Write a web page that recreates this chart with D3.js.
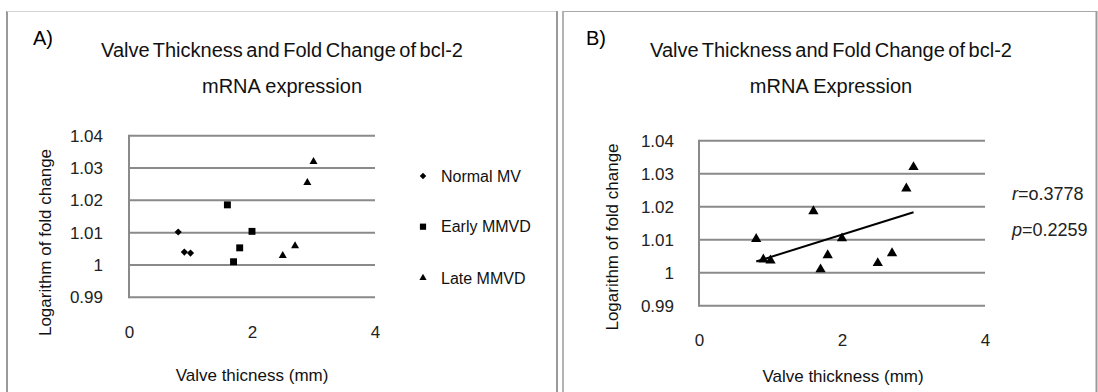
<!DOCTYPE html>
<html>
<head>
<meta charset="utf-8">
<script src="https://cdn.jsdelivr.net/npm/d3@7"></script>
<style>
  html, body { margin: 0; padding: 0; background: #fff; }
  svg { display: block; font-family: "Liberation Sans", Arial, sans-serif; }
</style>
</head>
<body>
<svg id="chart" width="1098" height="392"></svg>
<script>
// Valve thickness (mm) and log fold change of bcl-2 mRNA, per group
const normalX = [0.8, 0.9, 1.0];
const normalY = [1.0102, 1.0040, 1.0037];
const earlyX  = [1.6, 2.0, 1.8, 1.7];
const earlyY  = [1.0186, 1.0104, 1.0053, 1.0010];
const lateX   = [3.0, 2.9, 2.7, 2.5];
const lateY   = [1.0320, 1.0255, 1.0059, 1.0029];

const groupNames = ["Normal MV", "Early MMVD", "Late MMVD"];
const yTicks = [0.99, 1.00, 1.01, 1.02, 1.03, 1.04];
const yTickLabels = ["0.99", "1", "1.01", "1.02", "1.03", "1.04"];
const xTicks = [0, 2, 4];
const xTickLabels = ["0", "2", "4"];
const statLabels = ["=o.3778", "=0.2259"];
const statNames = ["r", "p"];

const groups = [
  { name: groupNames[0], xs: normalX, ys: normalY, shape: "diamond" },
  { name: groupNames[1], xs: earlyX,  ys: earlyY,  shape: "square" },
  { name: groupNames[2], xs: lateX,   ys: lateY,   shape: "triangle" }
];
const allPoints = groups.flatMap(g => g.xs.map((x, i) => ({ x, y: g.ys[i] })));

const svg = d3.select("#chart");
const GRID = "#8a8a8a";

// panel frames
svg.append("line").attr("x1", 7).attr("x2", 7).attr("y1", 11).attr("y2", 392)
  .attr("stroke", "#9a9a9a").attr("stroke-width", 2);
svg.append("line").attr("x1", 7).attr("x2", 557).attr("y1", 11.5).attr("y2", 11.5)
  .attr("stroke", "#d4d4d4").attr("stroke-width", 1);
svg.append("line").attr("x1", 557).attr("x2", 557).attr("y1", 11).attr("y2", 392)
  .attr("stroke", "#9a9a9a").attr("stroke-width", 2);
svg.append("line").attr("x1", 563).attr("x2", 563).attr("y1", 11).attr("y2", 392)
  .attr("stroke", "#9a9a9a").attr("stroke-width", 1.5);
svg.append("line").attr("x1", 563).attr("x2", 1097).attr("y1", 11.5).attr("y2", 11.5)
  .attr("stroke", "#a8a8a8").attr("stroke-width", 1);
svg.append("line").attr("x1", 1096.5).attr("x2", 1096.5).attr("y1", 11).attr("y2", 392)
  .attr("stroke", "#9a9a9a").attr("stroke-width", 2);

// square rhombus for the diamond marker, d3 symbols for the rest
const rhombus = {
  draw(ctx, size) {
    const r = Math.sqrt(size / 2);
    ctx.moveTo(0, -r); ctx.lineTo(r, 0); ctx.lineTo(0, r); ctx.lineTo(-r, 0); ctx.closePath();
  }
};
function symbolPath(shape, size) {
  const type = shape === "diamond" ? rhombus
             : shape === "square" ? d3.symbolSquare : d3.symbolTriangle;
  return d3.symbol().type(type).size(size)();
}
const markSizes = { diamond: 26, square: 48, triangle: 28 };

function drawPanel(cfg) {
  const g = svg.append("g");
  const x = d3.scaleLinear().domain([0, 4]).range([cfg.left, cfg.right]);
  const y = d3.scaleLinear().domain([0.99, 1.04]).range([cfg.bottom, cfg.top]);

  g.append("text").attr("x", cfg.tagX).attr("y", 45)
    .attr("font-size", 20).attr("fill", "#000").text(cfg.tag);

  g.append("text").attr("x", cfg.titleX).attr("y", 57).attr("text-anchor", "middle")
    .attr("font-size", 20).attr("word-spacing", -2).attr("fill", "#111").text(cfg.title1);
  g.append("text").attr("x", cfg.titleX).attr("y", 93).attr("text-anchor", "middle")
    .attr("font-size", 20).attr("fill", "#111").text(cfg.title2);

  // horizontal gridlines
  g.selectAll("line.grid").data(yTicks).join("line").attr("class", "grid")
    .attr("x1", cfg.left).attr("x2", cfg.right)
    .attr("y1", d => y(d)).attr("y2", d => y(d))
    .attr("stroke", GRID).attr("stroke-width", 2);
  // value axis line
  g.append("line").attr("x1", cfg.left).attr("x2", cfg.left)
    .attr("y1", y(1.04) - 1).attr("y2", y(0.99) + 1)
    .attr("stroke", GRID).attr("stroke-width", 2);

  // y tick labels
  const yAxis = d3.axisLeft(y).tickValues(yTicks).tickSize(0).tickPadding(cfg.yPad)
    .tickFormat((d, i) => yTickLabels[i]);
  const ya = g.append("g").attr("transform", `translate(${cfg.left},0)`).call(yAxis);
  ya.select(".domain").remove();
  ya.selectAll("text").attr("font-size", 17).attr("fill", "#222")
    .attr("font-family", "Liberation Sans, Arial, sans-serif");

  // x tick labels
  const xAxis = d3.axisBottom(x).tickValues(xTicks).tickSize(0).tickPadding(0)
    .tickFormat((d, i) => xTickLabels[i]);
  const xa = g.append("g").attr("transform", `translate(0,${cfg.xTickY})`).call(xAxis);
  xa.select(".domain").remove();
  xa.selectAll("text").attr("font-size", 17).attr("fill", "#222").attr("dy", 0)
    .attr("font-family", "Liberation Sans, Arial, sans-serif");

  // axis titles
  g.append("text").attr("transform", `translate(${cfg.yTitleX},${cfg.yTitleY}) rotate(-90)`)
    .attr("text-anchor", "middle").attr("dy", "0.35em")
    .attr("font-size", 17).attr("fill", "#111").text("Logarithm of fold change");
  g.append("text").attr("x", cfg.xTitleX).attr("y", cfg.xTitleY).attr("text-anchor", "middle")
    .attr("font-size", 17).attr("fill", "#111").text(cfg.xTitle);

  return { g, x, y };
}

// Panel A: three groups with legend
const A = drawPanel({
  tag: "A)", tagX: 33,
  title1: "Valve Thickness and Fold Change of bcl-2", title2: "mRNA expression", titleX: 282,
  left: 129, right: 375, top: 135.7, bottom: 297.3, yPad: 26,
  xTickY: 338, yTitleX: 45.5, yTitleY: 242.5,
  xTitle: "Valve thicness  (mm)", xTitleX: 252, xTitleY: 381
});
groups.forEach(gr => {
  A.g.selectAll(null).data(gr.xs.map((v, i) => [v, gr.ys[i]])).join("path")
    .attr("transform", d => `translate(${A.x(d[0])},${A.y(d[1])})`)
    .attr("d", symbolPath(gr.shape, markSizes[gr.shape]))
    .attr("fill", "#000");
});
const legendY = [176, 226.7, 278];
groups.forEach((gr, i) => {
  A.g.append("path").attr("transform", `translate(423,${legendY[i]})`)
    .attr("d", symbolPath(gr.shape, markSizes[gr.shape] * 0.8)).attr("fill", "#000");
  A.g.append("text").attr("x", 441).attr("y", legendY[i]).attr("dy", "0.35em")
    .attr("font-size", 16).attr("fill", "#111").text(gr.name);
});

// Panel B: pooled points with least-squares trend line
const B = drawPanel({
  tag: "B)", tagX: 586,
  title1: "Valve Thickness and Fold Change of bcl-2", title2: "mRNA Expression", titleX: 831,
  left: 699, right: 985, top: 140.7, bottom: 305.7, yPad: 25,
  xTickY: 346, yTitleX: 612, yTitleY: 237,
  xTitle: "Valve thickness  (mm)", xTitleX: 843, xTitleY: 382
});
B.g.selectAll(null).data(allPoints).join("path")
  .attr("transform", d => `translate(${B.x(d.x)},${B.y(d.y)})`)
  .attr("d", symbolPath("triangle", 46))
  .attr("fill", "#000");

const mx = d3.mean(allPoints, d => d.x), my = d3.mean(allPoints, d => d.y);
const slope = d3.sum(allPoints, d => (d.x - mx) * (d.y - my)) / d3.sum(allPoints, d => (d.x - mx) ** 2);
const [xmin, xmax] = d3.extent(allPoints, d => d.x);
const fit = v => my + slope * (v - mx);
B.g.append("line")
  .attr("x1", B.x(xmin)).attr("y1", B.y(fit(xmin)))
  .attr("x2", B.x(xmax)).attr("y2", B.y(fit(xmax)))
  .attr("stroke", "#000").attr("stroke-width", 2);

[200, 236].forEach((yy, i) => {
  const t = B.g.append("text").attr("x", 1012).attr("y", yy)
    .attr("font-size", 18).attr("fill", "#222");
  t.append("tspan").attr("font-style", "italic").text(statNames[i]);
  t.append("tspan").text(statLabels[i]);
});
</script>
</body>
</html>
